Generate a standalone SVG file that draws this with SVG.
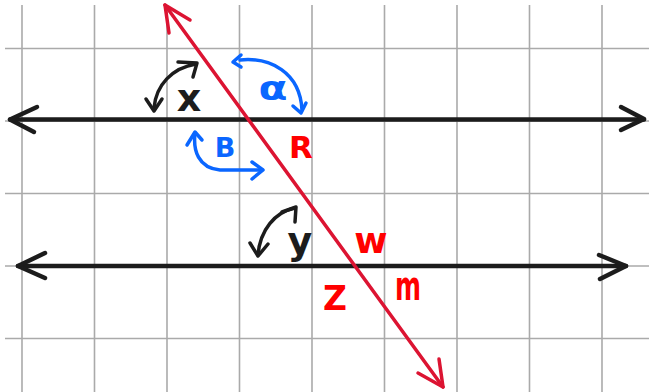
<svg xmlns="http://www.w3.org/2000/svg" width="649" height="392" viewBox="0 0 649 392">
<style>
.grid{stroke:#aaaaaa;stroke-width:1.6;fill:none}
.blk{stroke:#1c1c1c;stroke-width:4.5;fill:none;stroke-linecap:round;stroke-linejoin:round}
.red{stroke:#dc1432;stroke-width:3.5;fill:none;stroke-linecap:round;stroke-linejoin:round}
.arcK{stroke:#1c1c1c;stroke-width:3.5;fill:none;stroke-linecap:round;stroke-linejoin:round}
.arcB{stroke:#0a66ff;stroke-width:3.5;fill:none;stroke-linecap:round;stroke-linejoin:round}
text{font-family:"DejaVu Sans","Liberation Sans",sans-serif;text-anchor:middle;font-weight:bold}
.tK{fill:#1c1c1c}
.tB{fill:#0a66ff}
.tR{fill:#ff0000}
</style>
<rect width="649" height="392" fill="#ffffff"/>
<g id="grid" class="grid">
<path d="M22,5V392M94.5,5V392M167,5V392M239.5,5V392M312,5V392M384.5,5V392M457,5V392M529.5,5V392M602,5V392"/>
<path d="M5,48.5H649M5,121H649M5,193.5H649M5,266H649M5,338.5H649"/>
</g>
<g id="connectors">
<g id="line-upper" class="blk">
<path d="M10,119.5H644"/>
<path d="M37,107L10,119.5L34,132"/>
<path d="M621,107L644,119L621,130"/>
</g>
<g id="line-lower" class="blk">
<path d="M18,266H626"/>
<path d="M45,253L18,266L45,278"/>
<path d="M599,255L626,266L600,279"/>
</g>
<g id="transversal" class="red">
<path d="M165,5L443,387"/>
<path d="M190,20L165,5L169,33"/>
<path d="M418,373L443,387L439,359"/>
</g>
</g>
<g id="angle-x">
<path class="arcK" d="M154,108C156,85 172,68 196,64"/>
<path class="arcK" d="M146,99L154,111L162,99"/>
<path class="arcK" d="M178,62L197,63L193,77"/>
<text class="tK" x="189" y="111" font-size="38">x</text>
</g>
<g id="angle-alpha">
<path class="arcB" d="M240,60C270,57 300,72 302,110"/>
<path class="arcB" d="M241,55L233,62L241,67"/>
<path class="arcB" d="M293,106L301,113L306,103"/>
<text class="tB" x="273" y="100" font-size="34" textLength="29" lengthAdjust="spacingAndGlyphs">α</text>
</g>
<g id="angle-B">
<path class="arcB" d="M195,133C193,150 198,168 220,170L262,170"/>
<path class="arcB" d="M187,145L195,132L202,140"/>
<path class="arcB" d="M252,162L263,170L252,179"/>
<text class="tB" x="225" y="157" font-size="27">B</text>
</g>
<g id="label-R">
<text class="tR" x="301" y="158" font-size="31">R</text>
</g>
<g id="angle-y">
<path class="arcK" d="M258,255C260,230 275,212 295,208"/>
<path class="arcK" d="M250,243L258,256L268,244"/>
<path class="arcK" d="M282,212L296,207L295,222"/>
<text class="tK" x="300" y="254" font-size="38">y</text>
</g>
<g id="label-w">
<text class="tR" x="371" y="253" font-size="36">w</text>
</g>
<g id="label-Z">
<text class="tR" x="335" y="310" font-size="33">Z</text>
</g>
<g id="label-m">
<text class="tR" x="408" y="300" font-size="40" textLength="26" lengthAdjust="spacingAndGlyphs">m</text>
</g>
</svg>
